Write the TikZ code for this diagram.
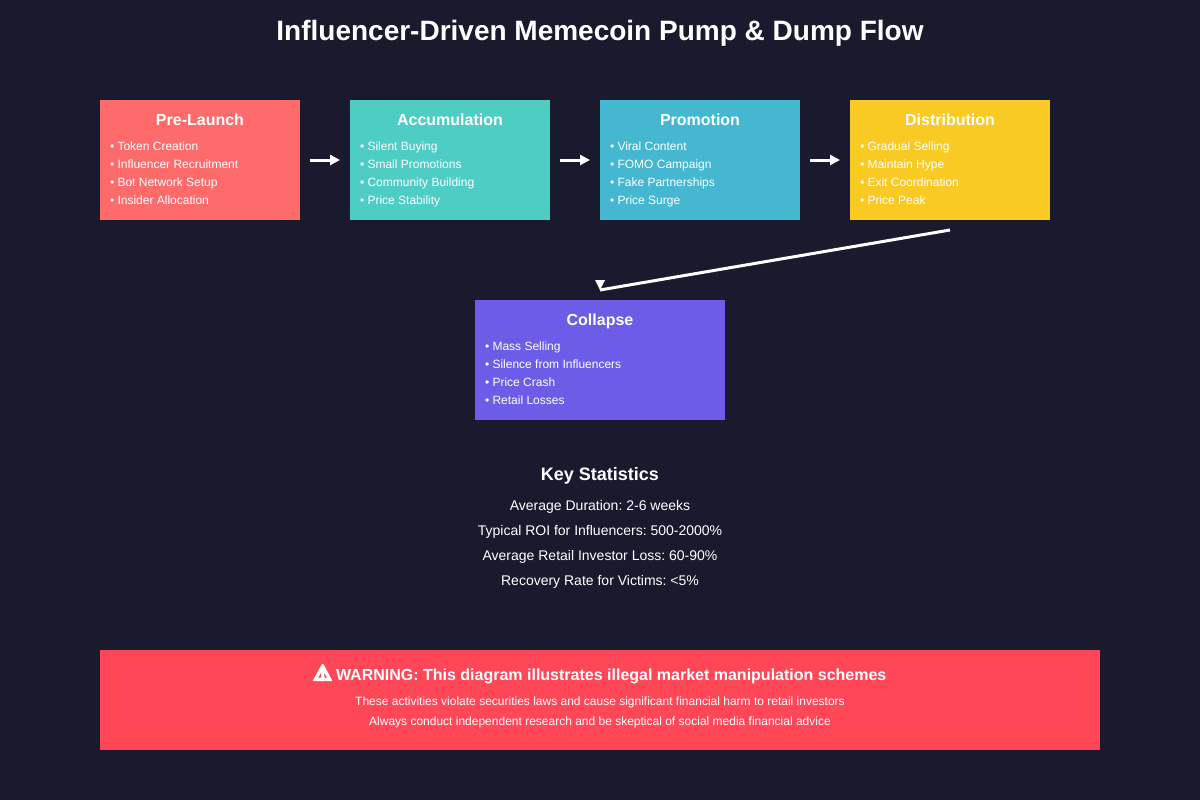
\documentclass[tikz,border=0pt]{standalone}
\usepackage{fontspec}
\setmainfont{Liberation Sans}
\newfontface\symbolfont[FakeBold=12,Scale=1.25]{DejaVu Sans}
\usetikzlibrary{arrows.meta,positioning}
\definecolor{pagebg}{HTML}{1A1A2E}
\definecolor{prelaunchred}{HTML}{FF6B6B}
\definecolor{accumteal}{HTML}{4ECDC4}
\definecolor{promoblue}{HTML}{45B7D1}
\definecolor{distyellow}{HTML}{F9CA24}
\definecolor{collapsepurple}{HTML}{6C5CE7}
\definecolor{warnred}{HTML}{FF4757}

\begin{document}
\frenchspacing
\begin{tikzpicture}[
    x=1pt, y=-1pt,
    node distance=50pt,
    every node/.style={text=white, inner sep=0pt, outer sep=0pt},
    phase/.style={rectangle, minimum width=200pt, minimum height=120pt},
    heading/.style={font=\bfseries\fontsize{16}{18}\selectfont, anchor=base},
    items/.style={font=\fontsize{12}{18}\selectfont, align=left, anchor=north west},
    stat/.style={font=\fontsize{14}{16}\selectfont, anchor=base},
    note/.style={font=\fontsize{12}{14}\selectfont, anchor=base},
    arrow/.style={-{Triangle[length=10pt,width=10pt]}, line width=3pt, draw=white, shorten <=10pt, shorten >=10pt}
]
\useasboundingbox (0,0) rectangle (1200,800);
\fill[pagebg] (0,0) rectangle (1200,800);

\node[font=\bfseries\fontsize{28}{32}\selectfont, anchor=base] (title) at (600,41) {Influencer-Driven Memecoin Pump \& Dump Flow};

% the four phases in a row
\node[phase, fill=prelaunchred, anchor=north west] (prelaunch) at (100,100) {};
\node[phase, fill=accumteal, right=of prelaunch] (accumulation) {};
\node[phase, fill=promoblue, right=of accumulation] (promotion) {};
\node[phase, fill=distyellow, right=of promotion] (distribution) {};
\node[phase, fill=collapsepurple, minimum width=250pt, anchor=north west] (collapse) at (475,300) {};

\node[heading] (prelaunchhead) at ([yshift=-25pt]prelaunch.north) {Pre-Launch};
\node[heading] (accumulationhead) at ([yshift=-25pt]accumulation.north) {Accumulation};
\node[heading] (promotionhead) at ([yshift=-25pt]promotion.north) {Promotion};
\node[heading] (distributionhead) at ([yshift=-25pt]distribution.north) {Distribution};
\node[heading] (collapsehead) at ([yshift=-25pt]collapse.north) {Collapse};

\node[items] (prelaunchitems) at ([xshift=10pt,yshift=-42pt]prelaunch.north west) {• Token Creation\\• Influencer Recruitment\\• Bot Network Setup\\• Insider Allocation};
\node[items] (accumulationitems) at ([xshift=10pt,yshift=-42pt]accumulation.north west) {• Silent Buying\\• Small Promotions\\• Community Building\\• Price Stability};
\node[items] (promotionitems) at ([xshift=10pt,yshift=-42pt]promotion.north west) {• Viral Content\\• FOMO Campaign\\• Fake Partnerships\\• Price Surge};
\node[items] (distributionitems) at ([xshift=10pt,yshift=-42pt]distribution.north west) {• Gradual Selling\\• Maintain Hype\\• Exit Coordination\\• Price Peak};
\node[items] (collapseitems) at ([xshift=10pt,yshift=-42pt]collapse.north west) {• Mass Selling\\• Silence from Influencers\\• Price Crash\\• Retail Losses};

\draw[arrow] (prelaunch) -- (accumulation);
\draw[arrow] (accumulation) -- (promotion);
\draw[arrow] (promotion) -- (distribution);

% the long arrow keeps its tip pointing straight down
\coordinate (diagstart) at ([yshift=-10pt]distribution.south);
\coordinate (diagend) at ([yshift=10pt]collapse.north);
\draw[line width=3pt, white] (diagstart) -- (diagend);
\fill[white] (diagend) ++(-5,-10) -- ++(10,0) -- ++(-5,10) -- cycle;

\node[font=\bfseries\fontsize{18}{20}\selectfont, anchor=base] (keyhead) at (600,480) {Key Statistics};
\node[stat] (duration) at (600,510) {Average Duration: 2-6 weeks};
\node[stat] (roi) at (600,535) {Typical ROI for Influencers: 500-2000\%};
\node[stat] (loss) at (600,560) {Average Retail Investor Loss: 60-90\%};
\node[stat] (recovery) at (600,585) {Recovery Rate for Victims: <5\%};

\node[rectangle, fill=warnred, minimum width=1000pt, minimum height=100pt, anchor=north west] (warning) at (100,650) {};
\node[font=\bfseries\fontsize{16}{18}\selectfont, anchor=base] (warninghead) at (600,680) {{\symbolfont ⚠} WARNING: This diagram illustrates illegal market manipulation schemes};
\node[note] (warningone) at (600,705) {These activities violate securities laws and cause significant financial harm to retail investors};
\node[note] (warningtwo) at (600,725) {Always conduct independent research and be skeptical of social media financial advice};
\end{tikzpicture}
\end{document}
